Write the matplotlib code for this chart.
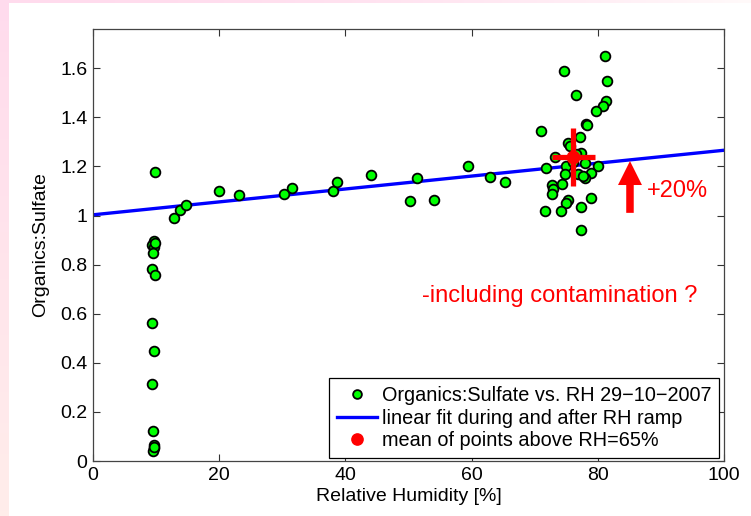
import numpy as np
import matplotlib
matplotlib.use("Agg")
import matplotlib.pyplot as plt
from matplotlib.patches import FancyArrowPatch

plt.rcParams['font.family'] = ['Liberation Sans', 'DejaVu Sans']

# ---- data ----
rh = [9.8, 9.6, 9.4, 9.7, 9.9, 9.5, 9.4, 9.8, 9.3, 9.6, 9.3, 9.5, 9.6, 9.6, 9.5, 9.7,
      12.9, 13.8, 14.7, 20.0, 23.2, 30.3, 31.6, 38.0, 38.6, 44.0, 50.3, 51.4, 54.1,
      59.5, 62.9, 65.3,
      81.1, 74.6, 81.4, 76.5, 81.3, 80.9, 79.7, 78.1, 78.3, 71.0, 77.1, 75.3, 75.6,
      77.4, 73.2, 80.1, 71.8, 75.0, 78.0, 78.9, 74.8, 76.9, 78.0, 77.7, 74.4, 72.7,
      72.9, 72.8, 79.0, 75.2, 75.0, 77.3, 71.6, 74.1, 77.4, 76.5, 76.0]
ratio = [1.178, 0.897, 0.882, 0.873, 0.890, 0.846, 0.782, 0.757, 0.561, 0.449, 0.312,
         0.122, 0.065, 0.052, 0.041, 0.058,
         0.992, 1.022, 1.042, 1.099, 1.083, 1.086, 1.112, 1.102, 1.135, 1.166, 1.059,
         1.155, 1.063, 1.200, 1.158, 1.135,
         1.650, 1.588, 1.550, 1.490, 1.465, 1.445, 1.425, 1.373, 1.367, 1.345, 1.320,
         1.294, 1.283, 1.253, 1.239, 1.201, 1.192, 1.201, 1.216, 1.174, 1.171, 1.171,
         1.151, 1.160, 1.128, 1.124, 1.108, 1.086, 1.070, 1.063, 1.052, 1.036, 1.019,
         1.018, 0.942, 1.250, 1.220]

fit_intercept = 1.003
fit_slope = 0.00263
fit_x = [0, 100]

mean_rh = 76.1
mean_ratio = 1.239
mean_rh_err = 3.4
mean_ratio_err = 0.117

arrow_x = 85.1
arrow_y0 = 1.011
arrow_y1 = 1.222

xticks = [0, 20, 40, 60, 80, 100]
yticks = [0, 0.2, 0.4, 0.6, 0.8, 1.0, 1.2, 1.4, 1.6]
ytick_labels = ['0', '0.2', '0.4', '0.6', '0.8', '1', '1.2', '1.4', '1.6']

# ---- figure ----
fig = plt.figure(figsize=(7.51, 5.16), dpi=100, facecolor='white')

# slide-like pink edges
bg_left = fig.add_axes([0, 0, 9 / 751, 1])
grad = np.linspace(0, 1, 100).reshape(-1, 1)
bg_left.imshow(np.dstack([np.ones_like(grad), 0.86 + 0.07 * grad, 0.93 - 0.01 * grad]),
               aspect='auto', extent=[0, 1, 0, 1], origin='upper')
bg_left.axis('off')
bg_top = fig.add_axes([0, 1 - 3 / 516, 1, 3 / 516])
gradh = np.linspace(0, 1, 200).reshape(1, -1)
bg_top.imshow(np.dstack([np.ones_like(gradh), 0.86 + 0.12 * gradh ** 2, 0.93 + 0.05 * gradh ** 2]),
              aspect='auto', extent=[0, 1, 0, 1])
bg_top.axis('off')

ax = fig.add_axes([93 / 751, 1 - 461 / 516, (724 - 93) / 751, (461 - 29) / 516])

line_x = np.array(fit_x, dtype=float)
ax.plot(line_x, fit_intercept + fit_slope * line_x, color='#0000ff', lw=2.4,
        label='linear fit during and after RH ramp', zorder=2)

ax.plot(rh, ratio, 'o', color='#00ff00', mec='black', mew=1.3, ms=7,
        label='Organics:Sulfate vs. RH 29\u221210\u22122007', zorder=3)

ax.errorbar([mean_rh], [mean_ratio], xerr=[mean_rh_err], yerr=[mean_ratio_err],
            fmt='none', ecolor='red', elinewidth=3.8, capsize=0, zorder=4)
ax.plot([mean_rh], [mean_ratio], 'o', color='red', mec='red', ms=9,
        label='mean of points above RH=65%', zorder=5)

arr = FancyArrowPatch((arrow_x, arrow_y0), (arrow_x, arrow_y1),
                      arrowstyle='simple,head_length=1.15,head_width=1.15,tail_width=0.36',
                      mutation_scale=15, color='red', lw=0, zorder=5,
                      shrinkA=0, shrinkB=0)
ax.add_patch(arr)

ax.text(87.8, 1.076, '+20%', color='red', fontsize=17, va='baseline', ha='left')
ax.text(52.1, 0.649, '-including contamination ?', color='red', fontsize=17,
        va='baseline', ha='left')

ax.set_xlim(0, 100)
ax.set_ylim(0, 1.76)
ax.set_xticks(xticks)
ax.set_xticklabels([str(t) for t in xticks])
ax.set_yticks(yticks)
ax.set_yticklabels(ytick_labels)
ax.tick_params(direction='in', length=5, width=0.8, top=True, right=True,
               labelsize=14, color='#333333', pad=4)
for s in ax.spines.values():
    s.set_color('#444444')
    s.set_linewidth(0.9)

ax.set_xlabel('Relative Humidity [%]', fontsize=14, labelpad=3)
ax.set_ylabel('Organics:Sulfate', fontsize=14, labelpad=8)

handles, labels = ax.get_legend_handles_labels()
order = [1, 0, 2]
leg = ax.legend([handles[i] for i in order], [labels[i] for i in order],
                loc='lower right', bbox_to_anchor=(0.992, 0.007), fontsize=14.3,
                frameon=True, fancybox=False, edgecolor='black', framealpha=1,
                handlelength=2.0, handletextpad=0.25, labelspacing=0.17,
                borderpad=0.4, borderaxespad=0, markerscale=0.9)
leg.get_frame().set_linewidth(0.9)

fig.savefig('out.png', dpi=100, facecolor='white')
